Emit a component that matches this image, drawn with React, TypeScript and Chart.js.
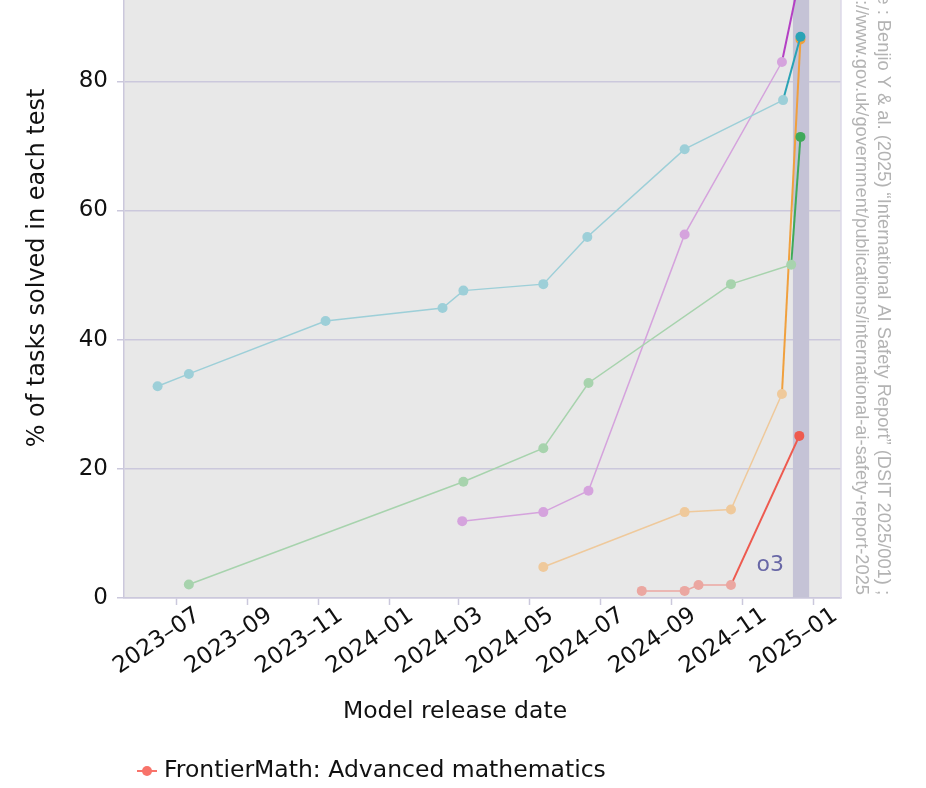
import { useEffect, useRef } from 'react';
import { Chart, registerables } from 'chart.js';

Chart.register(...registerables);

// ---------- data ----------
const tickMonths = ['2023-07-01', '2023-09-01', '2023-11-01', '2024-01-01', '2024-03-01', '2024-05-01', '2024-07-01', '2024-09-01', '2024-11-01', '2025-01-01'];
const tickLabels = ['2023–07', '2023–09', '2023–11', '2024–01', '2024–03', '2024–05', '2024–07', '2024–09', '2024–11', '2025–01'];
const xRange = ['2023-05-17', '2025-01-25'];
const yRange = [0, 92.6];
const yTicks = [0, 20, 40, 60, 80];

const gpqaName = 'GPQA Diamond: PhD-level science';
const gpqaDates = ['2023-06-15', '2023-07-12', '2023-11-07', '2024-02-16', '2024-03-05', '2024-05-13', '2024-06-20', '2024-09-12', '2024-12-06', '2024-12-21'];
const gpqaValues = [32.8, 34.7, 42.9, 44.9, 47.6, 48.6, 55.9, 69.5, 77.1, 86.9];

const sweName = 'SWE-bench Verified: Software engineering';
const sweDates = ['2023-07-12', '2024-03-05', '2024-05-13', '2024-06-21', '2024-10-22', '2024-12-13', '2024-12-21'];
const sweValues = [2.1, 18.0, 23.2, 33.3, 48.6, 51.6, 71.4];

const aimeName = 'AIME 2024: Competition mathematics';
const aimeDates = ['2024-03-04', '2024-05-13', '2024-06-21', '2024-09-12', '2024-12-05', '2024-12-21'];
const aimeValues = [11.9, 13.3, 16.6, 56.3, 83.0, 96.7];

const arcName = 'ARC-AGI: Abstract reasoning';
const arcDates = ['2024-05-13', '2024-09-12', '2024-10-22', '2024-12-05', '2024-12-21'];
const arcValues = [4.8, 13.3, 13.7, 31.6, 86.5];

const fmName = 'FrontierMath: Advanced mathematics';
const fmDates = ['2024-08-06', '2024-09-12', '2024-09-24', '2024-10-22', '2024-12-20'];
const fmValues = [1.1, 1.1, 2.0, 2.0, 25.1];

const o3Band = ['2024-12-14T12:00:00', '2024-12-28T12:00:00'];
const o3Label = 'o3';

const xTitle = 'Model release date';
const yTitle = '% of tasks solved in each test';
const sourceLines = [
  'Source : Benjio Y & al. (2025) “International AI Safety Report” (DSIT 2025/001) ;',
  'https://www.gov.uk/government/publications/international-ai-safety-report-2025',
];

// ---------- helpers ----------
const t = (s: string) => Date.parse(s.length > 10 ? s + 'Z' : s + 'T00:00:00Z');
const FONT = '"DejaVu Sans", Inter, sans-serif';
const GRID = '#cbc8dc';
const TEXT = '#111111';

function series(name: string, dates: string[], values: number[], full: string, light: string, order: number) {
  const n = values.length;
  return {
    label: name,
    data: dates.map((d, i) => ({ x: t(d), y: values[i] })),
    borderColor: light,
    backgroundColor: full,
    pointBackgroundColor: values.map((_, i) => (i === n - 1 ? full : light)),
    pointBorderWidth: 0,
    pointRadius: 5,
    pointHoverRadius: 5,
    borderWidth: 1.5,
    tension: 0,
    clip: false as const,
    order,
    segment: {
      borderColor: (c: any) => (c.p1DataIndex === n - 1 ? full : light),
      borderWidth: (c: any) => (c.p1DataIndex === n - 1 ? 2 : 1.5),
    },
  };
}

const decorPlugin = {
  id: 'decor',
  beforeDraw(chart: any) {
    const { ctx, chartArea: a } = chart;
    ctx.save();
    ctx.fillStyle = '#e8e8e8';
    ctx.fillRect(a.left, 0, a.right - a.left, a.bottom);
    ctx.restore();
  },
  beforeDatasetsDraw(chart: any) {
    const { ctx, chartArea: a, scales } = chart;
    const x0 = scales.x.getPixelForValue(t(o3Band[0]));
    const x1 = scales.x.getPixelForValue(t(o3Band[1]));
    ctx.save();
    ctx.fillStyle = '#c5c3d6';
    ctx.fillRect(x0, 0, x1 - x0, a.bottom - 0.5);
    ctx.fillStyle = '#6867a6';
    ctx.font = `22px ${FONT}`;
    ctx.textAlign = 'right';
    ctx.textBaseline = 'middle';
    ctx.fillText(o3Label, x0 - 9, 565);
    // right frame line
    ctx.strokeStyle = '#dcd9e8';
    ctx.lineWidth = 1.5;
    ctx.beginPath();
    ctx.moveTo(a.right, 0);
    ctx.lineTo(a.right, a.bottom);
    ctx.stroke();
    ctx.restore();
  },
  afterDraw(chart: any) {
    const { ctx } = chart;
    ctx.save();
    ctx.fillStyle = TEXT;
    // y title
    ctx.save();
    ctx.translate(38, 268);
    ctx.rotate(-Math.PI / 2);
    ctx.font = `24px ${FONT}`;
    ctx.textAlign = 'center';
    ctx.textBaseline = 'middle';
    ctx.fillText(yTitle, 0, 0);
    ctx.restore();
    // x title
    ctx.font = `23.5px ${FONT}`;
    ctx.textAlign = 'center';
    ctx.textBaseline = 'middle';
    ctx.fillText(xTitle, 455, 712);
    // source
    ctx.fillStyle = '#b3b3b3';
    ctx.font = '18.3px "Liberation Sans", Arial, sans-serif';
    ctx.textAlign = 'right';
    ctx.textBaseline = 'middle';
    [883, 861].forEach((x, i) => {
      ctx.save();
      ctx.translate(x, 595);
      ctx.rotate(Math.PI / 2);
      ctx.fillText(sourceLines[i], 0, 0);
      ctx.restore();
    });
    // legend (only visible entry)
    const ly = 771;
    ctx.strokeStyle = '#f8736a';
    ctx.fillStyle = '#f8736a';
    ctx.lineWidth = 2;
    ctx.beginPath();
    ctx.moveTo(137, ly);
    ctx.lineTo(157, ly);
    ctx.stroke();
    ctx.beginPath();
    ctx.arc(147, ly, 5, 0, Math.PI * 2);
    ctx.fill();
    ctx.fillStyle = TEXT;
    ctx.font = `23.5px ${FONT}`;
    ctx.textAlign = 'left';
    ctx.textBaseline = 'middle';
    ctx.fillText(fmName, 164, ly);
    ctx.restore();
  },
};

export default function App() {
  const ref = useRef<HTMLCanvasElement | null>(null);
  useEffect(() => {
    if (!ref.current) return;
    const chart = new Chart(ref.current, {
      type: 'line',
      data: {
        datasets: [
          series(gpqaName, gpqaDates, gpqaValues, '#2aa3b5', '#9dcfd8', 1),
          series(sweName, sweDates, sweValues, '#3fa95a', '#a7d3ad', 2),
          series(fmName, fmDates, fmValues, '#ee5a4f', '#eba7a1', 3),
          series(aimeName, aimeDates, aimeValues, '#b440c4', '#d5a3dd', 4),
          series(arcName, arcDates, arcValues, '#f0a03e', '#efc99b', 5),
        ] as any,
      },
      options: {
        animation: false,
        responsive: true,
        maintainAspectRatio: false,
        layout: { autoPadding: false, padding: { left: 0, right: 85, top: 0, bottom: 0 } },
        plugins: { legend: { display: false }, tooltip: { enabled: false } },
        scales: {
          x: {
            type: 'linear',
            min: t(xRange[0]),
            max: t(xRange[1]),
            afterBuildTicks: (s: any) => {
              s.ticks = tickMonths.map((m) => ({ value: t(m) }));
            },
            afterFit: (s: any) => {
              s.height = 190;
            },
            ticks: {
              autoSkip: false,
              minRotation: 34,
              maxRotation: 34,
              padding: -3,
              labelOffset: 22,
              color: TEXT,
              font: { family: FONT, size: 23 },
              callback: (_v: any, i: number) => tickLabels[i],
            },
            grid: { drawOnChartArea: false, color: GRID, tickLength: 7, tickWidth: 1.5 },
            border: { color: GRID, width: 1.5 },
          },
          y: {
            type: 'linear',
            min: yRange[0],
            max: yRange[1],
            afterBuildTicks: (s: any) => {
              s.ticks = yTicks.map((v) => ({ value: v }));
            },
            afterFit: (s: any) => {
              s.width = 124;
              s.paddingTop = 0;
            },
            ticks: {
              padding: 9,
              color: TEXT,
              font: { family: FONT, size: 23 },
              callback: (v: any) => String(v),
            },
            grid: { color: GRID, lineWidth: 1.5, tickLength: 7 },
            border: { color: GRID, width: 1.5 },
          },
        },
      },
      plugins: [decorPlugin],
    });
    return () => chart.destroy();
  }, []);
  return (
    <div style={{ position: 'fixed', left: 0, top: 0, width: 926, height: 788, background: '#fff' }}>
      <canvas ref={ref} />
    </div>
  );
}
